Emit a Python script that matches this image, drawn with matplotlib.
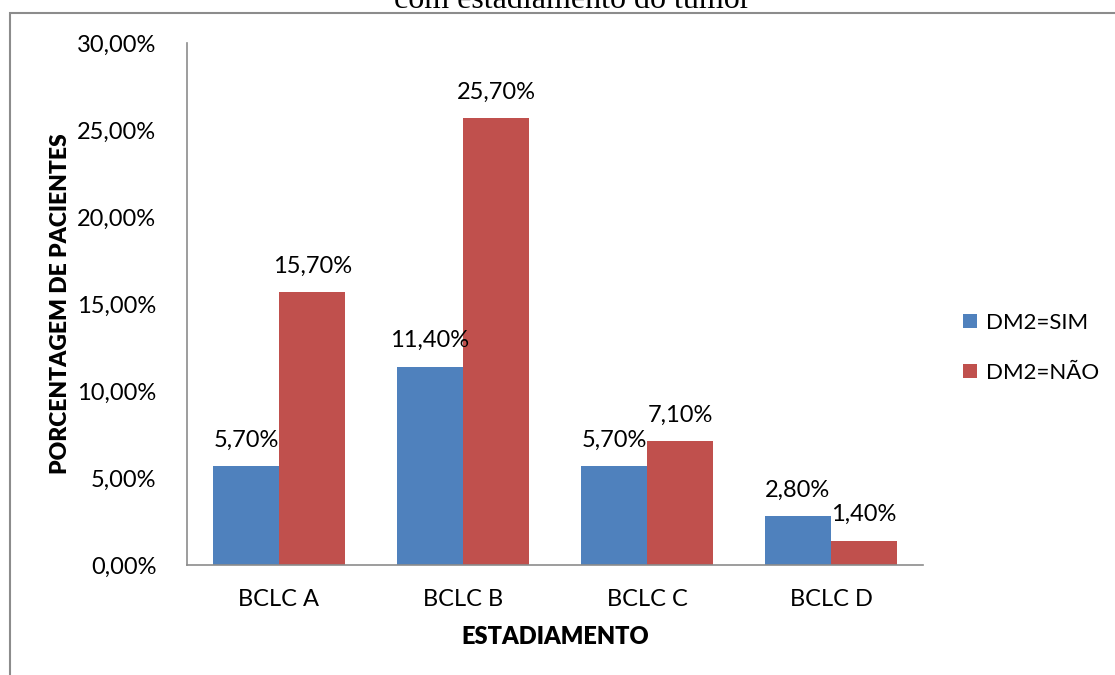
import numpy as np
import matplotlib
matplotlib.use("Agg")
from matplotlib import pyplot as plt
from matplotlib.patches import Rectangle

categories = ["BCLC A", "BCLC B", "BCLC C", "BCLC D"]
series_names = ["DM2=SIM", "DM2=NÃO"]
dm2_sim = [5.7, 11.4, 5.7, 2.8]
dm2_nao = [15.7, 25.7, 7.1, 1.4]
y_ticks = [0, 5, 10, 15, 20, 25, 30]

blue = "#4F81BD"
red = "#C0504D"
plt.rcParams['font.family'] = ['Lato', 'DejaVu Sans']


def pct(v, dec=2):
    return f"{v:.{dec}f}".replace(".", ",") + "%"


fig = plt.figure(figsize=(11.15, 6.75), dpi=100)
ax = fig.add_axes([187 / 1115, 110 / 675, 736 / 1115, 522 / 675])

# outer frame of the chart area (partially cut in the original)
fig.patches.append(Rectangle((10 / 1115, -0.1), 1.2, 1.1 - 12.5 / 675,
                             transform=fig.transFigure, fill=False,
                             edgecolor="#8c8c8c", linewidth=1.5))

# title line, cut at the top as in the source
fig.text(572 / 1115, 1 - 8 / 675, "com estadiamento do tumor",
         family="Liberation Serif", fontsize=23, ha="center", va="baseline")

x = np.arange(len(categories))
w = 0.36
b1 = ax.bar(x - w / 2, dm2_sim, width=w, color=blue, label=series_names[0])
b2 = ax.bar(x + w / 2, dm2_nao, width=w, color=red, label=series_names[1])

for bars, vals in [(b1, dm2_sim), (b2, dm2_nao)]:
    for rect, v in zip(bars, vals):
        ax.annotate(pct(v), (rect.get_x() + rect.get_width() / 2, v),
                    xytext=(0, 14), textcoords="offset points",
                    ha="center", va="baseline", fontsize=17)

ax.set_xlim(-0.5, 3.5)
ax.set_ylim(0, 30)
ax.set_yticks(y_ticks)
ax.set_yticklabels([pct(t) for t in y_ticks])
ax.set_xticks(x)
ax.set_xticklabels(categories)
ax.tick_params(length=0, labelsize=17)
ax.tick_params(axis="y", pad=22)
ax.tick_params(axis="x", pad=17)
for s in ["top", "right"]:
    ax.spines[s].set_visible(False)
for s in ["left", "bottom"]:
    ax.spines[s].set_color("#8c8c8c")
    ax.spines[s].set_linewidth(1.2)

ax.set_xlabel("ESTADIAMENTO", fontsize=17, fontweight="heavy", labelpad=12)
ax.set_ylabel("PORCENTAGEM DE PACIENTES", fontsize=16.5, fontweight="heavy",
              labelpad=4.5)

ax.legend(loc="center left", bbox_to_anchor=(1.027, 0.416), frameon=False,
          fontsize=16, handlelength=0.65, handleheight=0.65,
          labelspacing=1.35, handletextpad=0.4)

fig.savefig("out.png", dpi=100)
